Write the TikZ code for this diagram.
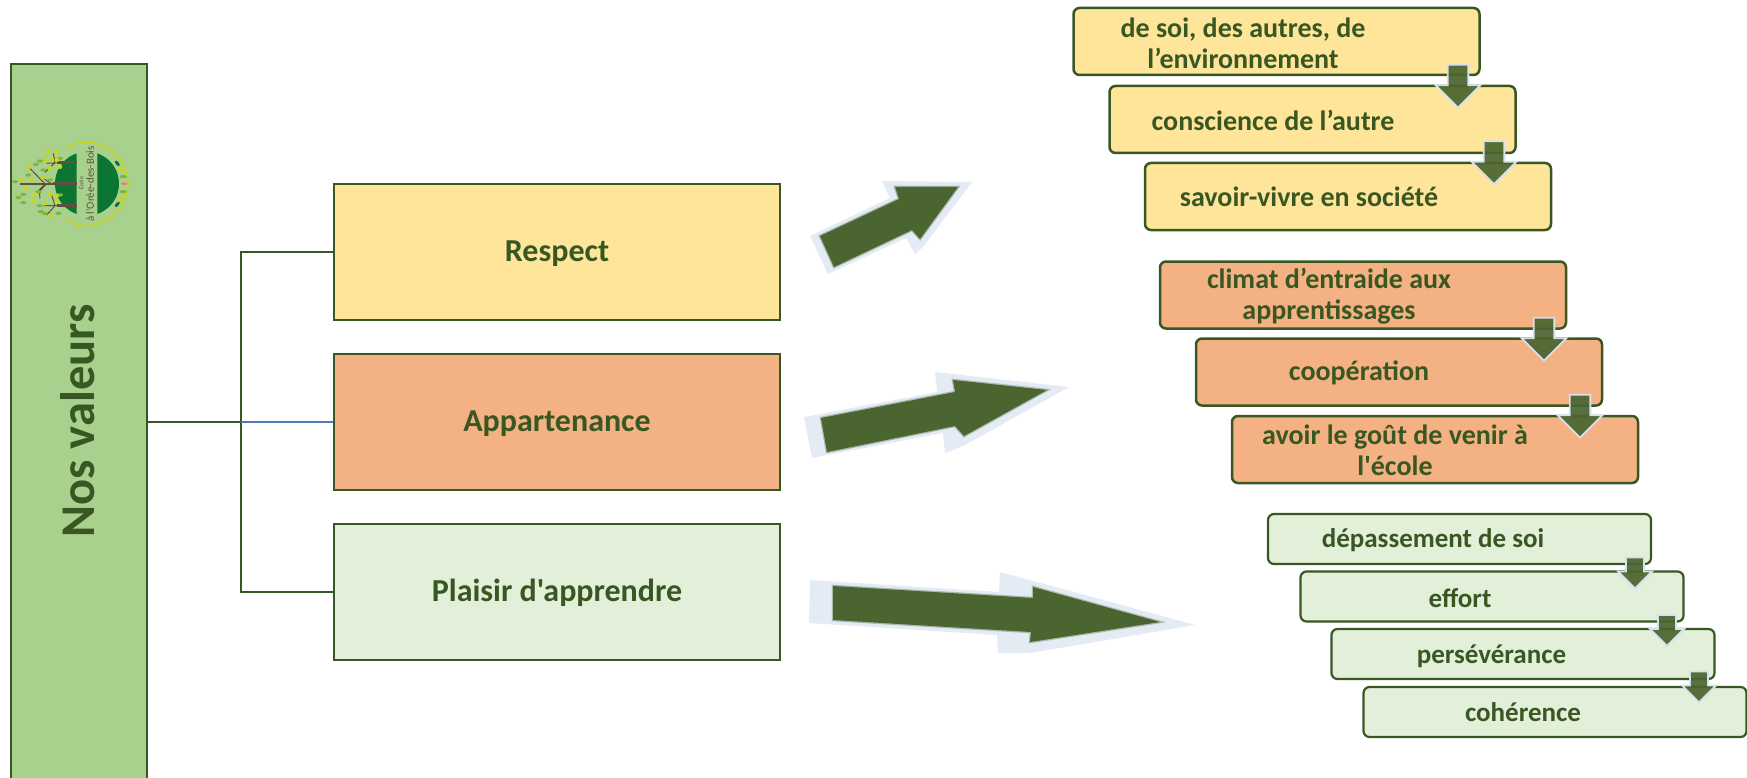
\documentclass[tikz,border=0pt]{standalone}
\usepackage{fontspec}
\defaultfontfeatures[\rmfamily]{}
\setmainfont{Carlito}
\usetikzlibrary{shapes.arrows}
\definecolor{vert}{HTML}{385723}
\definecolor{fleche}{HTML}{4B6530}
\definecolor{halo}{HTML}{D6E0EE}
\definecolor{halob}{HTML}{A9B9AC}
\definecolor{barre}{HTML}{A9D18E}
\definecolor{jaune}{HTML}{FFE599}
\definecolor{orange}{HTML}{F4B183}
\definecolor{pale}{HTML}{E2EFD9}
\definecolor{bleu}{HTML}{4A7EB5}
\definecolor{tronc}{HTML}{5E5140}
\definecolor{sapin}{HTML}{0B7532}
\definecolor{citron}{HTML}{CBD41F}
\definecolor{feuille}{HTML}{7DB83A}
\tikzset{
    val/.style={draw=vert, line width=2.5pt, minimum width=446pt, minimum height=136pt, text=vert, text height=25pt, text depth=7pt, font=\bfseries\fontsize{32}{38}\selectfont},
    big/.style={rounded corners=6pt, draw=vert, line width=2.5pt, minimum width=406pt, minimum height=67pt},
    small/.style={rounded corners=6pt, draw=vert, line width=2.2pt, minimum width=383pt, minimum height=50pt},
    txt/.style={text=vert, align=center, inner sep=0pt, font=\bfseries\fontsize{28}{31}\selectfont},
    txts/.style={text=vert, align=center, inner sep=0pt, font=\bfseries\fontsize{27}{30}\selectfont},
    lien/.style={draw=vert, line width=2.5pt},
    down/.style={single arrow, shape border rotate=270, fill=fleche, fill opacity=.93, draw=halo, line width=1.8pt, single arrow head indent=0pt, inner sep=8.5pt, single arrow head extend=11pt, minimum height=43pt, minimum width=45pt},
    downs/.style={down, inner sep=8pt, single arrow head extend=8pt, minimum height=31pt, minimum width=34pt},
    halopoly/.style={fill=halo, opacity=.65},
    corepoly/.style={fill=fleche, preaction={draw=halob, line width=2.5pt}},
    leaf/.style={fill=feuille},
    dot/.style={fill=citron}
}
\begin{document}
\begin{tikzpicture}[x=1pt,y=-1pt]
\clip (0,0) rectangle (1747,778);
\node[draw=vert, line width=2.5pt, fill=barre, minimum width=136pt, minimum height=740pt] at (79,434) (nos) {};
\node[rotate=90, text=vert, inner sep=0pt, font=\bfseries\fontsize{48.5}{56}\selectfont] at (78,421) (nostxt) {Nos valeurs};

\node[val,fill=jaune] at (557,252) (respect) {Respect};
\node[val,fill=orange] at (557,422) (appart) {Appartenance};
\node[val,fill=pale] at (557,592) (plaisir) {Plaisir d'apprendre};
\coordinate (trunk) at (241,422);
\draw[lien] (nos.east |- appart.west) -- (trunk);
\draw[lien] (respect.west) -| (trunk) |- (plaisir.west);
\draw[draw=bleu, line width=2.5pt] (trunk) -- (appart.west);

\begin{scope}[shift={(10,135)},x=.3333pt,y=-.3333pt]
\draw[citron, line width=1.5pt] (166,38) arc[start angle=-120, end angle=120, radius=125];
\begin{scope}
\clip (135,40) rectangle (200,250) (262,40) rectangle (330,250);
\fill[sapin] (231,146) circle (96);
\end{scope}
\draw[tronc, line width=1.2pt] (30,147) -- (200,147);
\draw[tronc, line width=3pt] (130,147) -- (200,147);
\draw[tronc, line width=2.5pt] (140,83) -- (200,83);
\draw[tronc, line width=2.5pt] (140,212) -- (200,212);
\draw[tronc, line width=1pt] (55,95) -- (105,147) (75,178) -- (105,147) (100,130) -- (125,147) (110,85) -- (150,83) (130,55) -- (135,83) (105,112) -- (135,83) (100,212) -- (150,212) (125,180) -- (135,212) (110,240) -- (135,212) (90,190) .. controls (85,170) and (95,160) .. (110,147);
\foreach \a/\b in {78/88,15/140,55/120,25/188,40/178,40/203,85/170,88/212,90/78,100/105,150/70,120/135,105/235,145/235,150/180,92/230}
    \fill[leaf] (\a,\b) ellipse (9 and 5);
\foreach \a/\b in {58/95,35/135,65/135,98/128,48/160,75/178,68/197,115/50,140/52,125/75,140/75,105/75,120/100,150/95,120/178,140/182,105/205,140/200,125/240}
    \fill[dot] (\a,\b) circle (7);
\fill[sapin, rotate around={-50:(322,85)}] (322,85) ellipse (10 and 5);
\fill[citron, rotate around={-25:(332,104)}] (332,104) ellipse (11 and 5);
\fill[feuille] (340,125) ellipse (11 and 5);
\fill[orange!70!red] (343,146) ellipse (10 and 4);
\fill[feuille] (340,170) ellipse (11 and 5);
\fill[citron, rotate around={25:(332,190)}] (332,190) ellipse (11 and 5);
\fill[sapin, rotate around={50:(322,208)}] (322,208) ellipse (10 and 5);
\node[rotate=90, text=tronc, inner sep=0pt, font=\fontsize{6}{7}\selectfont] at (213,145) (ecole) {École};
\node[rotate=90, text=tronc, inner sep=0pt, font=\fontsize{11}{12}\selectfont] at (240,147) (oree) {à l'Orée-des-Bois};
\end{scope}

\fill[halopoly] (810,236) -- (828,274) -- (906,238) -- (915,254) -- (923,247) -- (972,182) -- (882,181) -- (890,198) -- cycle;
\path[corepoly] (820,236) -- (834,267) -- (912,230) -- (920,239) -- (958,187) -- (895,187) -- (899,199) -- cycle;
\fill[halopoly] (804,417) -- (812,458) -- (943,433) -- (945,453) -- (965,445) -- (1069,387) -- (935,372) -- (937,392) -- cycle;
\path[corepoly] (821,418) -- (827,452) -- (955,426) -- (964,436) -- (1047,390) -- (953,380) -- (955,392) -- cycle;
\fill[halopoly] (810,580) -- (809,623) -- (997,635) -- (998,653) -- (1030,653) -- (1195,625) -- (1000,572) -- (999,592) -- cycle;
\path[corepoly] (833,586) -- (833,620) -- (1031,632) -- (1030,642) -- (1160,622) -- (1033,587) -- (1033,598) -- cycle;

\node[big,fill=jaune] at (1276.5,41.5) (r1) {};
\node[big,fill=jaune] at (1312.5,119.5) (r2) {};
\node[big,fill=jaune] at (1348,196.5) (r3) {};
\node[txt] at (1243,43) (r1t) {de soi, des autres, de\\l’environnement};
\node[txt] at (1273,120) (r2t) {conscience de l’autre};
\node[txt] at (1309,197) (r3t) {savoir-vivre en société};

\node[big,fill=orange] at (1363,295) (a1) {};
\node[big,fill=orange] at (1399,372) (a2) {};
\node[big,fill=orange] at (1435,449.5) (a3) {};
\node[txt] at (1329,296) (a1t) {climat d’entraide aux\\apprentissages};
\node[txt] at (1359,373) (a2t) {coopération};
\node[txt] at (1395,450) (a3t) {avoir le goût de venir à\\l'école};

\node[small,fill=pale] at (1459.5,539) (p1) {};
\node[small,fill=pale] at (1492,596.5) (p2) {};
\node[small,fill=pale] at (1523,654) (p3) {};
\node[small,fill=pale] at (1555,712) (p4) {};
\node[txts] at (1433,540) (p1t) {dépassement de soi};
\node[txts] at (1460,598) (p2t) {effort};
\node[txts] at (1491.5,656) (p3t) {persévérance};
\node[txts] at (1523,712) (p4t) {cohérence};

\node[down] at (1458,81) (d1) {};
\node[down] at (1494,157.5) (d2) {};
\node[down] at (1544,334) (d3) {};
\node[down] at (1580,411) (d4) {};
\node[downs] at (1635,568.5) (d5) {};
\node[downs] at (1667,626) (d6) {};
\node[downs] at (1699,682.5) (d7) {};
\end{tikzpicture}
\end{document}
